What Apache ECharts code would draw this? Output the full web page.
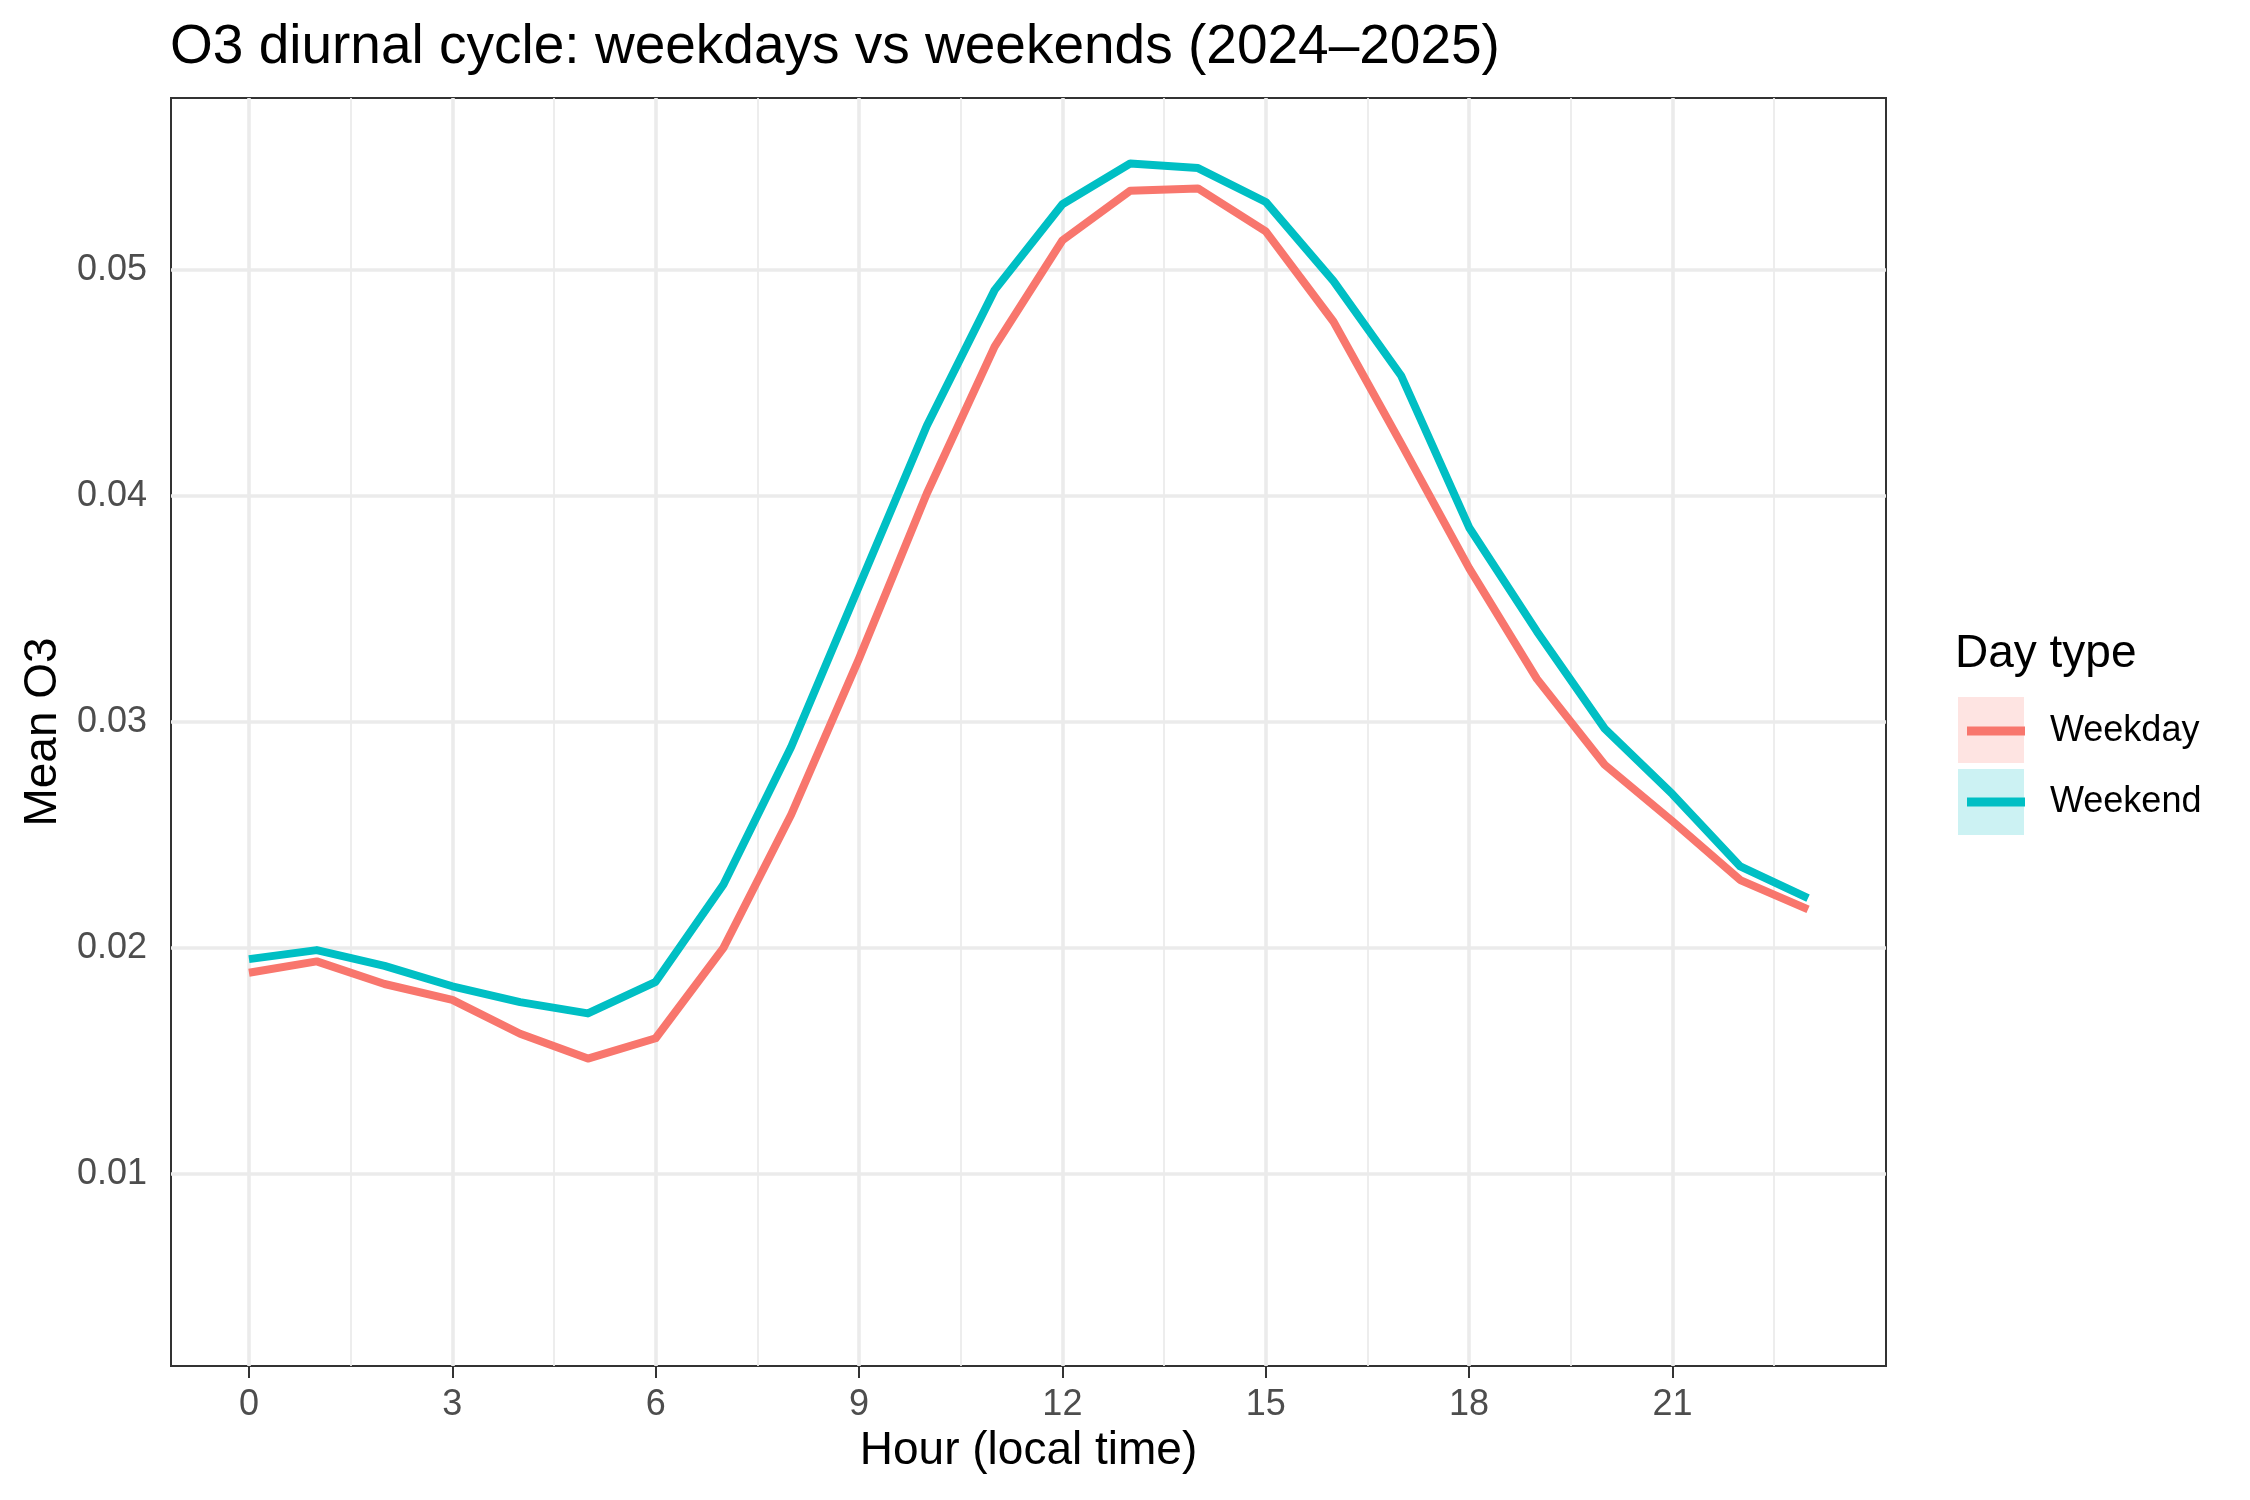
<!DOCTYPE html>
<html>
<head>
<meta charset="utf-8">
<script src="https://cdn.jsdelivr.net/npm/echarts@6/dist/echarts.min.js"></script>
<style>
  html, body { margin: 0; padding: 0; background: #ffffff; }
  #chart { width: 2250px; height: 1500px; }
</style>
</head>
<body>
<div id="chart"></div>
<script>
// ---- data ----
const hours = [0, 1, 2, 3, 4, 5, 6, 7, 8, 9, 10, 11, 12, 13, 14, 15, 16, 17, 18, 19, 20, 21, 22, 23];
const weekday = [0.0189, 0.0194, 0.0184, 0.0177, 0.0162, 0.0151, 0.0160, 0.0200, 0.0259, 0.0328, 0.0401, 0.0466,
                 0.0513, 0.0535, 0.0536, 0.0517, 0.0477, 0.0423, 0.0368, 0.0319, 0.0281, 0.0256, 0.0230, 0.0217];
const weekend = [0.0195, 0.0199, 0.0192, 0.0183, 0.0176, 0.0171, 0.0185, 0.0228, 0.0289, 0.0360, 0.0431, 0.0491,
                 0.0529, 0.0547, 0.0545, 0.0530, 0.0495, 0.0453, 0.0386, 0.0340, 0.0297, 0.0268, 0.0236, 0.0222];
const seriesNames = ['Weekday', 'Weekend'];
const xTicks = [0, 3, 6, 9, 12, 15, 18, 21];
const xMinor = [1.5, 4.5, 7.5, 10.5, 13.5, 16.5, 19.5, 22.5];
const yTicks = [0.01, 0.02, 0.03, 0.04, 0.05];
const yMinor = [0.005, 0.015, 0.025, 0.035, 0.045, 0.055];
const yTickLabels = ['0.01', '0.02', '0.03', '0.04', '0.05'];

const COLORS = ['#F8766D', '#00BFC4'];
const FONT = 'Liberation Sans, Arial, Helvetica, sans-serif';

const chart = echarts.init(document.getElementById('chart'), null, { renderer: 'canvas' });

const gridLines = [];
xMinor.forEach(v => gridLines.push({ xAxis: v, lineStyle: { width: 1.8, color: '#EBEBEB', type: 'solid' } }));
yMinor.forEach(v => gridLines.push({ yAxis: v, lineStyle: { width: 1.8, color: '#EBEBEB', type: 'solid' } }));
xTicks.forEach(v => gridLines.push({ xAxis: v, lineStyle: { width: 3.6, color: '#EBEBEB', type: 'solid' } }));
yTicks.forEach(v => gridLines.push({ yAxis: v, lineStyle: { width: 3.6, color: '#EBEBEB', type: 'solid' } }));

const option = {
  animation: false,
  backgroundColor: '#ffffff',
  title: [
    {
      text: 'O3 diurnal cycle: weekdays vs weekends (2024\u20132025)',
      left: 165, top: 15,
      textStyle: { fontFamily: FONT, fontSize: 55, fontWeight: 'normal', color: '#000000' }
    },
    {
      text: 'Day type',
      left: 1950, top: 626,
      textStyle: { fontFamily: FONT, fontSize: 46, fontWeight: 'normal', color: '#000000' }
    }
  ],
  grid: {
    left: 171, right: 364, top: 98, bottom: 134,
    show: true, borderColor: '#333333', borderWidth: 2, backgroundColor: 'transparent',
    containLabel: false
  },
  legend: {
    data: seriesNames,
    orient: 'vertical',
    left: 1962, top: 706,
    icon: 'rect',
    itemWidth: 58, itemHeight: 9, itemGap: 31,
    selectedMode: false,
    textStyle: { fontFamily: FONT, fontSize: 36, color: '#000000', lineHeight: 40, padding: [0, 0, 0, 20] }
  },
  graphic: [
    { type: 'rect', left: 1958, top: 697, shape: { width: 66, height: 66 }, style: { fill: 'rgba(248,118,109,0.2)' }, z: -1 },
    { type: 'rect', left: 1958, top: 769, shape: { width: 66, height: 66 }, style: { fill: 'rgba(0,191,196,0.2)' }, z: -1 }
  ],
  xAxis: {
    type: 'value',
    min: -1.15, max: 24.15,
    name: 'Hour (local time)',
    nameLocation: 'middle',
    nameGap: 59,
    nameTextStyle: { fontFamily: FONT, fontSize: 46, color: '#000000' },
    axisLine: { show: false },
    axisTick: { show: true, customValues: xTicks, length: 12, lineStyle: { color: '#333333', width: 2 } },
    axisLabel: { customValues: xTicks, fontFamily: FONT, fontSize: 36, color: '#4D4D4D', margin: 21 },
    splitLine: { show: false },
    minorSplitLine: { show: false }
  },
  yAxis: {
    type: 'value',
    min: 0.0015, max: 0.0576,
    name: 'Mean O3',
    nameLocation: 'middle',
    nameGap: 105,
    nameTextStyle: { fontFamily: FONT, fontSize: 46, color: '#000000' },
    axisLine: { show: false },
    axisTick: { show: true, customValues: yTicks, length: 12, lineStyle: { color: '#333333', width: 2 } },
    axisLabel: {
      customValues: yTicks, fontFamily: FONT, fontSize: 36, color: '#4D4D4D', margin: 24,
      formatter: v => { const i = yTicks.findIndex(t => Math.abs(t - v) < 1e-9); return i >= 0 ? yTickLabels[i] : ''; }
    },
    splitLine: { show: false },
    minorSplitLine: { show: false }
  },
  series: [
    {
      name: '_grid',
      type: 'line',
      data: [[hours[0], weekday[0]]],
      showSymbol: false, symbol: 'none', silent: true,
      lineStyle: { opacity: 0 },
      z: 1,
      markLine: {
        silent: true, symbol: ['none', 'none'], label: { show: false },
        z: 1, animation: false,
        data: gridLines
      }
    },
    {
      name: seriesNames[0],
      type: 'line',
      data: hours.map((h, i) => [h, weekday[i]]),
      showSymbol: false, symbol: 'none',
      color: COLORS[0],
      itemStyle: { color: COLORS[0] },
      lineStyle: { color: COLORS[0], width: 8, cap: 'butt', join: 'round' },
      z: 3
    },
    {
      name: seriesNames[1],
      type: 'line',
      data: hours.map((h, i) => [h, weekend[i]]),
      showSymbol: false, symbol: 'none',
      color: COLORS[1],
      itemStyle: { color: COLORS[1] },
      lineStyle: { color: COLORS[1], width: 8, cap: 'butt', join: 'round' },
      z: 4
    }
  ]
};
chart.setOption(option);
</script>
</body>
</html>
